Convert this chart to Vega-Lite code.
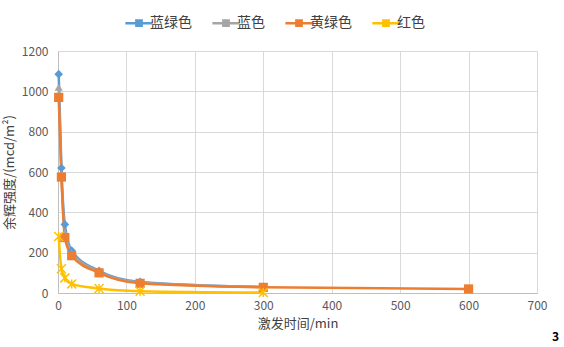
{
  "$schema": "https://vega.github.io/schema/vega-lite/v6.json",
  "width": 479,
  "height": 242,
  "autosize": {"type": "none"},
  "padding": {"left": 58, "top": 51, "right": 27, "bottom": 54},
  "background": "white",
  "config": {
    "font": "Noto Sans CJK SC",
    "view": {"stroke": null},
    "axis": {"labelColor": "#595959", "titleColor": "#404040", "labelFontSize": 12, "titleFontSize": 13, "titleFontWeight": "normal", "gridColor": "#D9D9D9", "domainColor": "#BFBFBF", "ticks": false, "format": "d", "labelFlush": false}
  },
  "title": {"text": "3", "orient": "bottom", "anchor": "end", "frame": "group", "fontSize": 12, "fontWeight": "bold", "color": "#000000", "offset": 2, "dx": 22},
  "data": {"values": [
    {"s": "蓝绿色", "t": 1, "v": 1085}, {"s": "蓝绿色", "t": 5, "v": 620}, {"s": "蓝绿色", "t": 10, "v": 340}, {"s": "蓝绿色", "t": 20, "v": 210}, {"s": "蓝绿色", "t": 60, "v": 110}, {"s": "蓝绿色", "t": 120, "v": 55}, {"s": "蓝绿色", "t": 300, "v": 30},
    {"s": "蓝色", "t": 1, "v": 1020}, {"s": "蓝色", "t": 5, "v": 590}, {"s": "蓝色", "t": 10, "v": 300}, {"s": "蓝色", "t": 20, "v": 200}, {"s": "蓝色", "t": 60, "v": 105}, {"s": "蓝色", "t": 120, "v": 52}, {"s": "蓝色", "t": 300, "v": 30},
    {"s": "黄绿色", "t": 1, "v": 970}, {"s": "黄绿色", "t": 5, "v": 575}, {"s": "黄绿色", "t": 10, "v": 275}, {"s": "黄绿色", "t": 20, "v": 185}, {"s": "黄绿色", "t": 60, "v": 100}, {"s": "黄绿色", "t": 120, "v": 48}, {"s": "黄绿色", "t": 300, "v": 28}, {"s": "黄绿色", "t": 600, "v": 20},
    {"s": "红色", "t": 1, "v": 280}, {"s": "红色", "t": 5, "v": 120}, {"s": "红色", "t": 10, "v": 75}, {"s": "红色", "t": 20, "v": 45}, {"s": "红色", "t": 60, "v": 22}, {"s": "红色", "t": 120, "v": 9}, {"s": "红色", "t": 300, "v": 2}
  ]},
  "encoding": {
    "x": {"field": "t", "type": "quantitative", "title": "激发时间/min", "scale": {"domain": [0, 700], "nice": false}, "axis": {"values": [0, 100, 200, 300, 400, 500, 600, 700], "labelPadding": 7, "titlePadding": 6}},
    "y": {"field": "v", "type": "quantitative", "title": "余辉强度/(mcd/m²)", "scale": {"domain": [0, 1200], "nice": false}, "axis": {"values": [0, 200, 400, 600, 800, 1000, 1200], "labelPadding": 10, "titlePadding": 5}},
    "color": {"field": "s", "type": "nominal", "sort": ["蓝绿色", "蓝色", "黄绿色", "红色"], "scale": {"domain": ["蓝绿色", "蓝色", "黄绿色", "红色"], "range": ["#5B9BD5", "#A5A5A5", "#ED7D31", "#FFC000"]},
      "legend": {"orient": "none", "legendX": 74, "legendY": -35, "direction": "horizontal", "title": null, "labelFontSize": 14, "labelColor": "#404040", "columnPadding": 15, "symbolType": "M-2.6,0L2.6,0M-0.5,-0.5L0.5,-0.5L0.5,0.5L-0.5,0.5Z", "symbolSize": 110, "symbolStrokeWidth": 2.5, "symbolOpacity": 1, "labelOffset": 4}
    }
  },
  "layer": [
    {"mark": {"type": "line", "interpolate": "monotone", "strokeWidth": 2.5}},
    {"transform": [{"filter": "datum.s === '蓝绿色'"}], "mark": {"type": "point", "shape": "diamond", "filled": true, "size": 75, "opacity": 1}},
    {"transform": [{"filter": "datum.s === '蓝色'"}], "mark": {"type": "point", "shape": "triangle-up", "filled": true, "size": 65, "opacity": 1}},
    {"transform": [{"filter": "datum.s === '黄绿色'"}], "mark": {"type": "point", "shape": "square", "filled": true, "size": 85, "opacity": 1}},
    {"transform": [{"filter": "datum.s === '红色'"}], "mark": {"type": "point", "shape": "M-1,-1L1,1M-1,1L1,-1M0,-1L0,1", "filled": false, "size": 80, "opacity": 1, "strokeWidth": 1.5}}
  ]
}
